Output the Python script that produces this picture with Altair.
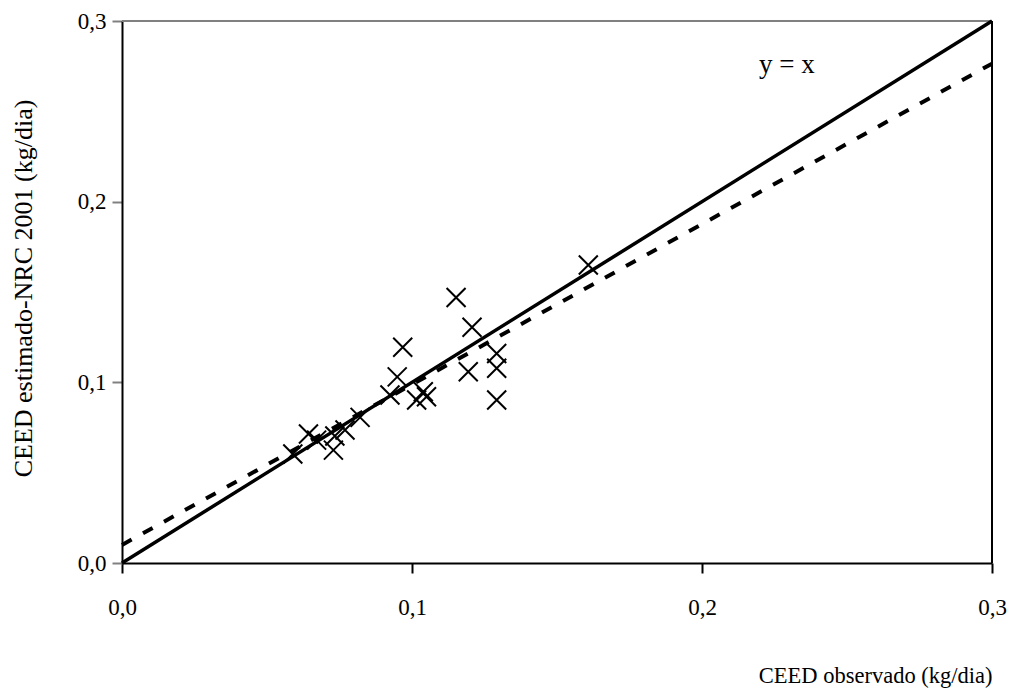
import altair as alt
import pandas as pd

# observed vs estimated points (kg/dia)
obs = [0.0589, 0.0643, 0.0671, 0.0729, 0.0734, 0.0769, 0.0821, 0.0924, 0.0949, 0.0968,
       0.1016, 0.1039, 0.1050, 0.1152, 0.1194, 0.1207, 0.1292, 0.1292, 0.1292, 0.1608]
est = [0.0603, 0.0714, 0.0680, 0.0625, 0.0703, 0.0736, 0.0806, 0.0930, 0.1030, 0.1194,
       0.0902, 0.0948, 0.0920, 0.1470, 0.1059, 0.1305, 0.1160, 0.1078, 0.0902, 0.1649]

identity_x = [0.0, 0.3]
identity_y = [0.0, 0.3]
fit_x = [0.0, 0.3]
fit_y = [0.010, 0.2764]

ticks = [0.0, 0.1, 0.2, 0.3]
label_text = "y = x"
label_pos = (0.2293, 0.2756)

FONT = "Liberation Serif"
W, H = 870, 542

pts = pd.DataFrame({"x": obs, "y": est})
ident = pd.DataFrame({"x": identity_x, "y": identity_y})
fit = pd.DataFrame({"x": fit_x, "y": fit_y})
lbl = pd.DataFrame({"x": [label_pos[0]], "y": [label_pos[1]], "t": [label_text]})

xs = alt.Scale(domain=[0, 0.3], nice=False, zero=False)
ys = alt.Scale(domain=[0, 0.3], nice=False, zero=False)

lab_expr = "replace(format(datum.value, '.1f'), '.', ',')"

xaxis = alt.Axis(values=ticks, labelExpr=lab_expr, grid=False, domainColor="black",
                 domainWidth=2, tickColor="black", tickSize=10, tickWidth=2,
                 labelFlush=False, labelOverlap=False, labelBound=False,
                 labelPadding=23, labelFont=FONT, labelFontSize=23, labelColor="black",
                 title="CEED observado (kg/dia)", titleFont=FONT, titleFontSize=22.5,
                 titleFontWeight="normal", titleColor="black", titleAnchor="end",
                 titleAlign="right", titleX=W, titleY=124, titleBaseline="bottom")
yaxis = alt.Axis(values=ticks, labelExpr=lab_expr, grid=False, domainColor="black",
                 domainWidth=2, tickColor="#808080", tickSize=10, tickWidth=2,
                 labelFlush=False, labelOverlap=False,
                 labelPadding=6, labelFont=FONT, labelFontSize=23, labelColor="black",
                 title="CEED estimado-NRC 2001 (kg/dia)", titleFont=FONT, titleFontSize=26,
                 titleFontWeight="normal", titleColor="black", titleAngle=-90,
                 titleX=-99, titleY=H / 2 - 4, titleAlign="center", titleBaseline="middle")

base_x = alt.X("x:Q", scale=xs, axis=xaxis)
base_y = alt.Y("y:Q", scale=ys, axis=yaxis)

ident_line = alt.Chart(ident).mark_line(color="black", strokeWidth=3.5).encode(x=base_x, y=base_y)
fit_line = alt.Chart(fit).mark_line(color="black", strokeWidth=4, strokeDash=[11, 13]).encode(
    x=alt.X("x:Q", scale=xs), y=alt.Y("y:Q", scale=ys))
points = alt.Chart(pts).mark_point(shape="M-1,-1L1,1M-1,1L1,-1", size=361, filled=False,
                                   color="black", strokeWidth=2, opacity=1).encode(
    x=alt.X("x:Q", scale=xs), y=alt.Y("y:Q", scale=ys))
text = alt.Chart(lbl).mark_text(font=FONT, fontSize=27, color="black", align="center",
                                baseline="middle").encode(
    x=alt.X("x:Q", scale=xs), y=alt.Y("y:Q", scale=ys), text="t:N")

top_rule = alt.Chart(pd.DataFrame({"y": [0.3]})).mark_rule(color="#808080", strokeWidth=2).encode(
    y=alt.Y("y:Q", scale=ys), x=alt.value(0), x2=alt.value(W))
right_rule = alt.Chart(pd.DataFrame({"x": [0.3]})).mark_rule(color="black", strokeWidth=2).encode(
    x=alt.X("x:Q", scale=xs), y=alt.value(0), y2=alt.value(H))

chart = alt.layer(top_rule, right_rule, fit_line, ident_line, points, text).properties(
    width=W, height=H,
    autosize=alt.AutoSizeParams(type="none"),
    padding={"left": 114, "top": 13, "right": 16, "bottom": 125},
).configure_view(stroke=None).configure(background="white")

chart.save("out.html", embed_options={"renderer": "svg", "actions": False})
